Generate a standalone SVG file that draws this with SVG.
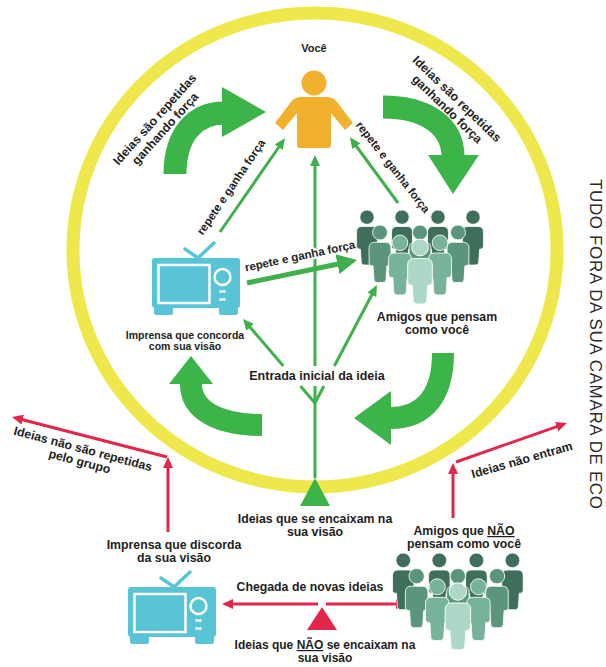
<svg xmlns="http://www.w3.org/2000/svg" width="606" height="667" viewBox="0 0 606 667">
<style>
text{font-family:"Liberation Sans",Arial,Helvetica,sans-serif;font-weight:bold;fill:#1e1e1e}
.c{text-anchor:middle}
.t12{font-size:12.3px}
.t11{font-size:11.5px}
.g{stroke:#3FB04B;stroke-width:3;fill:none}
.r{stroke:#E5264B;stroke-width:3;fill:none}
.big{stroke:#3CB44A;fill:none;stroke-width:23}
.bh{fill:#3CB44A}
.halo{stroke:#fff;stroke-width:4;paint-order:stroke;stroke-linejoin:round}
</style>
<defs>
<marker id="ag" markerUnits="userSpaceOnUse" markerWidth="11" markerHeight="10" refX="4" refY="5" orient="auto"><path d="M0,0L11,5L0,10z" fill="#3FB04B"/></marker>
<marker id="agb" markerUnits="userSpaceOnUse" markerWidth="20" markerHeight="20" refX="8" refY="10" orient="auto"><path d="M0,0L20,10L0,20z" fill="#3FB04B"/></marker>
<marker id="ar" markerUnits="userSpaceOnUse" markerWidth="11" markerHeight="10" refX="4" refY="5" orient="auto"><path d="M0,0L11,5L0,10z" fill="#E5264B"/></marker>
<g id="tv">
<polyline points="33,-9 46,0 62,-15" fill="none" stroke="#58C4D6" stroke-width="3.5" stroke-linecap="round"/>
<rect x="0" y="0" width="88" height="50" rx="3" fill="#58C4D6"/>
<rect x="2" y="44" width="19" height="13" rx="2" fill="#58C4D6"/>
<rect x="67" y="44" width="19" height="13" rx="2" fill="#58C4D6"/>
<rect x="6.5" y="7" width="51" height="38" fill="none" stroke="#fff" stroke-width="2.5"/>
<circle cx="70.5" cy="19" r="8" fill="none" stroke="#fff" stroke-width="2.5"/>
<path d="M67.5,33.5h6M67.5,41.5h6" stroke="#fff" stroke-width="2.5"/>
</g>
<g id="fig">
<circle cx="10" cy="6.5" r="6.5"/>
<path d="M0.5,20Q0.5,15 5.5,15L14.5,15Q19.5,15 19.5,20L19.5,33Q19.5,35.5 17,35.5L16,35.5L15.2,47.5Q15,50 12.5,50L7.5,50Q5,50 4.8,47.5L4,35.5L3,35.5Q0.5,35.5 0.5,33Z"/>
</g>
<g id="crowd" stroke="#fff" stroke-width="0.7">
<use href="#fig" fill="#3F6F5B" transform="translate(-2,0) scale(1.1)"/>
<use href="#fig" fill="#3F6F5B" transform="translate(33,0) scale(1.1)"/>
<use href="#fig" fill="#3F6F5B" transform="translate(69,0) scale(1.1)"/>
<use href="#fig" fill="#3F6F5B" transform="translate(104,0) scale(1.1)"/>
<use href="#fig" fill="#5B957B" transform="translate(10.5,15) scale(1.15)"/>
<use href="#fig" fill="#5B957B" transform="translate(50.5,15) scale(1.15)"/>
<use href="#fig" fill="#5B957B" transform="translate(88.5,15) scale(1.15)"/>
<use href="#fig" fill="#77B29A" transform="translate(30,25) scale(1.2)"/>
<use href="#fig" fill="#77B29A" transform="translate(70,25) scale(1.2)"/>
<use href="#fig" fill="#ADD8C8" transform="translate(49,29) scale(1.3)"/>
</g>
</defs>

<rect width="606" height="667" fill="#fff"/>

<g id="echo-chamber">
<ellipse cx="315" cy="250" rx="242" ry="237" fill="none" stroke="#EEE84C" stroke-width="13"/>
</g>

<g id="cycle-arrows">
<path class="big" d="M175,174C175,135 195,113 224,113"/>
<polygon class="bh" points="222,87 266,112 222,137"/>
<path class="big" d="M383,107C425,107 453,125 453,157"/>
<polygon class="bh" points="428,155 479,155 453,194"/>
<path class="big" d="M443,353C443,395 425,418 390,418" style="stroke-width:22"/>
<polygon class="bh" points="391,391 391,445 354,418"/>
<path class="big" d="M262,425C218,425 191,410 191,384" style="stroke-width:22"/>
<polygon class="bh" points="169,384 213,384 191,356"/>
</g>

<g id="connectors">
<line class="g" x1="220" y1="232" x2="281" y2="144" marker-end="url(#ag)"/>
<line class="g" x1="315" y1="478" x2="315" y2="386"/>
<line class="g" x1="315" y1="366" x2="315" y2="162" marker-end="url(#ag)"/>
<line class="g" x1="315" y1="403" x2="300.4" y2="386"/>
<line class="g" x1="283.3" y1="366" x2="247.6" y2="324.3" marker-end="url(#ag)"/>
<line class="g" x1="315" y1="403" x2="323.9" y2="386"/>
<line class="g" x1="334.4" y1="366" x2="373.7" y2="291.2" marker-end="url(#ag)"/>
<line class="g" x1="398" y1="203" x2="354" y2="143" marker-end="url(#ag)"/>
<line class="g" x1="247" y1="283" x2="345.3" y2="262.5" style="stroke-width:5" marker-end="url(#agb)"/>
<line class="r" x1="318" y1="604" x2="229" y2="604" marker-end="url(#ar)"/>
<line class="r" x1="326" y1="604" x2="400" y2="604" marker-end="url(#ar)"/>
<line class="r" x1="168" y1="532" x2="168" y2="464" marker-end="url(#ar)"/>
<line class="r" x1="167" y1="457" x2="18.8" y2="418.7" marker-end="url(#ar)"/>
<line class="r" x1="453" y1="518" x2="453" y2="470" marker-end="url(#ar)"/>
<line class="r" x1="456" y1="462" x2="560.4" y2="425.3" marker-end="url(#ar)"/>
</g>

<g id="edge-labels">
<g transform="translate(160,124) rotate(-48)"><text class="c t12" y="-3">Ideias são repetidas</text><text class="c t12" y="11">ganhando força</text></g>
<g transform="translate(452,104) rotate(44)"><text class="c t12" y="-3">Ideias são repetidas</text><text class="c t12" y="11">ganhando força</text></g>
<text class="c t11" transform="translate(231,187) rotate(-56)" y="4">repete e ganha força</text>
<text class="c t11" transform="translate(393,167) rotate(52)" y="4">repete e ganha força</text>
<text class="c t11 halo" transform="translate(300,256) rotate(-12)" y="4">repete e ganha força</text>
<g transform="translate(83,449) rotate(15)"><text class="c t12" y="4">Ideias não são repetidas</text><text class="c t12" y="17">pelo grupo</text></g>
<text class="c t12" transform="translate(522,460) rotate(-16)" y="4">Ideias não entram</text>
<text class="c t12" x="310" y="591">Chegada de novas ideias</text>
</g>

<g id="voce">
<text class="c" x="314" y="52" style="font-size:11px">Você</text>
<circle cx="314" cy="83" r="12.5" fill="#F1B12F"/>
<path d="M301,97L327,97Q333,97 337,102L353,123L345,130L331,113L331,145Q331,148 328,148L300,148Q297,148 297,145L297,113L283,130L275,123L291,102Q295,97 301,97Z" fill="#F1B12F"/>
</g>

<g id="imprensa-concorda">
<use href="#tv" transform="translate(152,258)"/>
<text class="c" x="185" y="339" style="font-size:10.5px">Imprensa que concorda</text>
<text class="c" x="185" y="350" style="font-size:10.5px">com sua visão</text>
</g>

<g id="amigos-pensam">
<use href="#crowd" transform="translate(358,210)"/>
<text class="c t12" x="437" y="321">Amigos que pensam</text>
<text class="c t12" x="437" y="334">como você</text>
</g>

<g id="entrada">
<text class="c" x="317" y="380" style="font-size:12.5px">Entrada inicial da ideia</text>
</g>

<g id="ideias-encaixam">
<polygon points="300,506 330,506 315,478" fill="#3CB44A"/>
<text class="c t12" x="315" y="523">Ideias que se encaixam na</text>
<text class="c t12" x="315" y="536">sua visão</text>
</g>

<g id="imprensa-discorda">
<text class="c t12" x="174" y="549">Imprensa que discorda</text>
<text class="c t12" x="174" y="562">da sua visão</text>
<use href="#tv" transform="translate(128,587)"/>
</g>

<g id="amigos-nao">
<text class="c t12" x="464" y="535">Amigos que <tspan text-decoration="underline">NÃO</tspan></text>
<text class="c t12" x="464" y="548">pensam como você</text>
<use href="#crowd" transform="translate(394,553) scale(1.03)"/>
</g>

<g id="ideias-nao-encaixam">
<polygon points="307,630 337,630 322,607" fill="#E5264B"/>
<text class="c" x="325" y="649" style="font-size:12px">Ideias que <tspan text-decoration="underline">NÃO</tspan> se encaixam na</text>
<text class="c" x="325" y="662" style="font-size:12px">sua visão</text>
</g>

<g id="titulo">
<text class="c" transform="translate(590,344) rotate(90)" style="font-weight:normal;font-size:17px;fill:#2a2a2a" textLength="330" lengthAdjust="spacing">TUDO FORA DA SUA CAMARA DE ECO</text>
</g>
</svg>
